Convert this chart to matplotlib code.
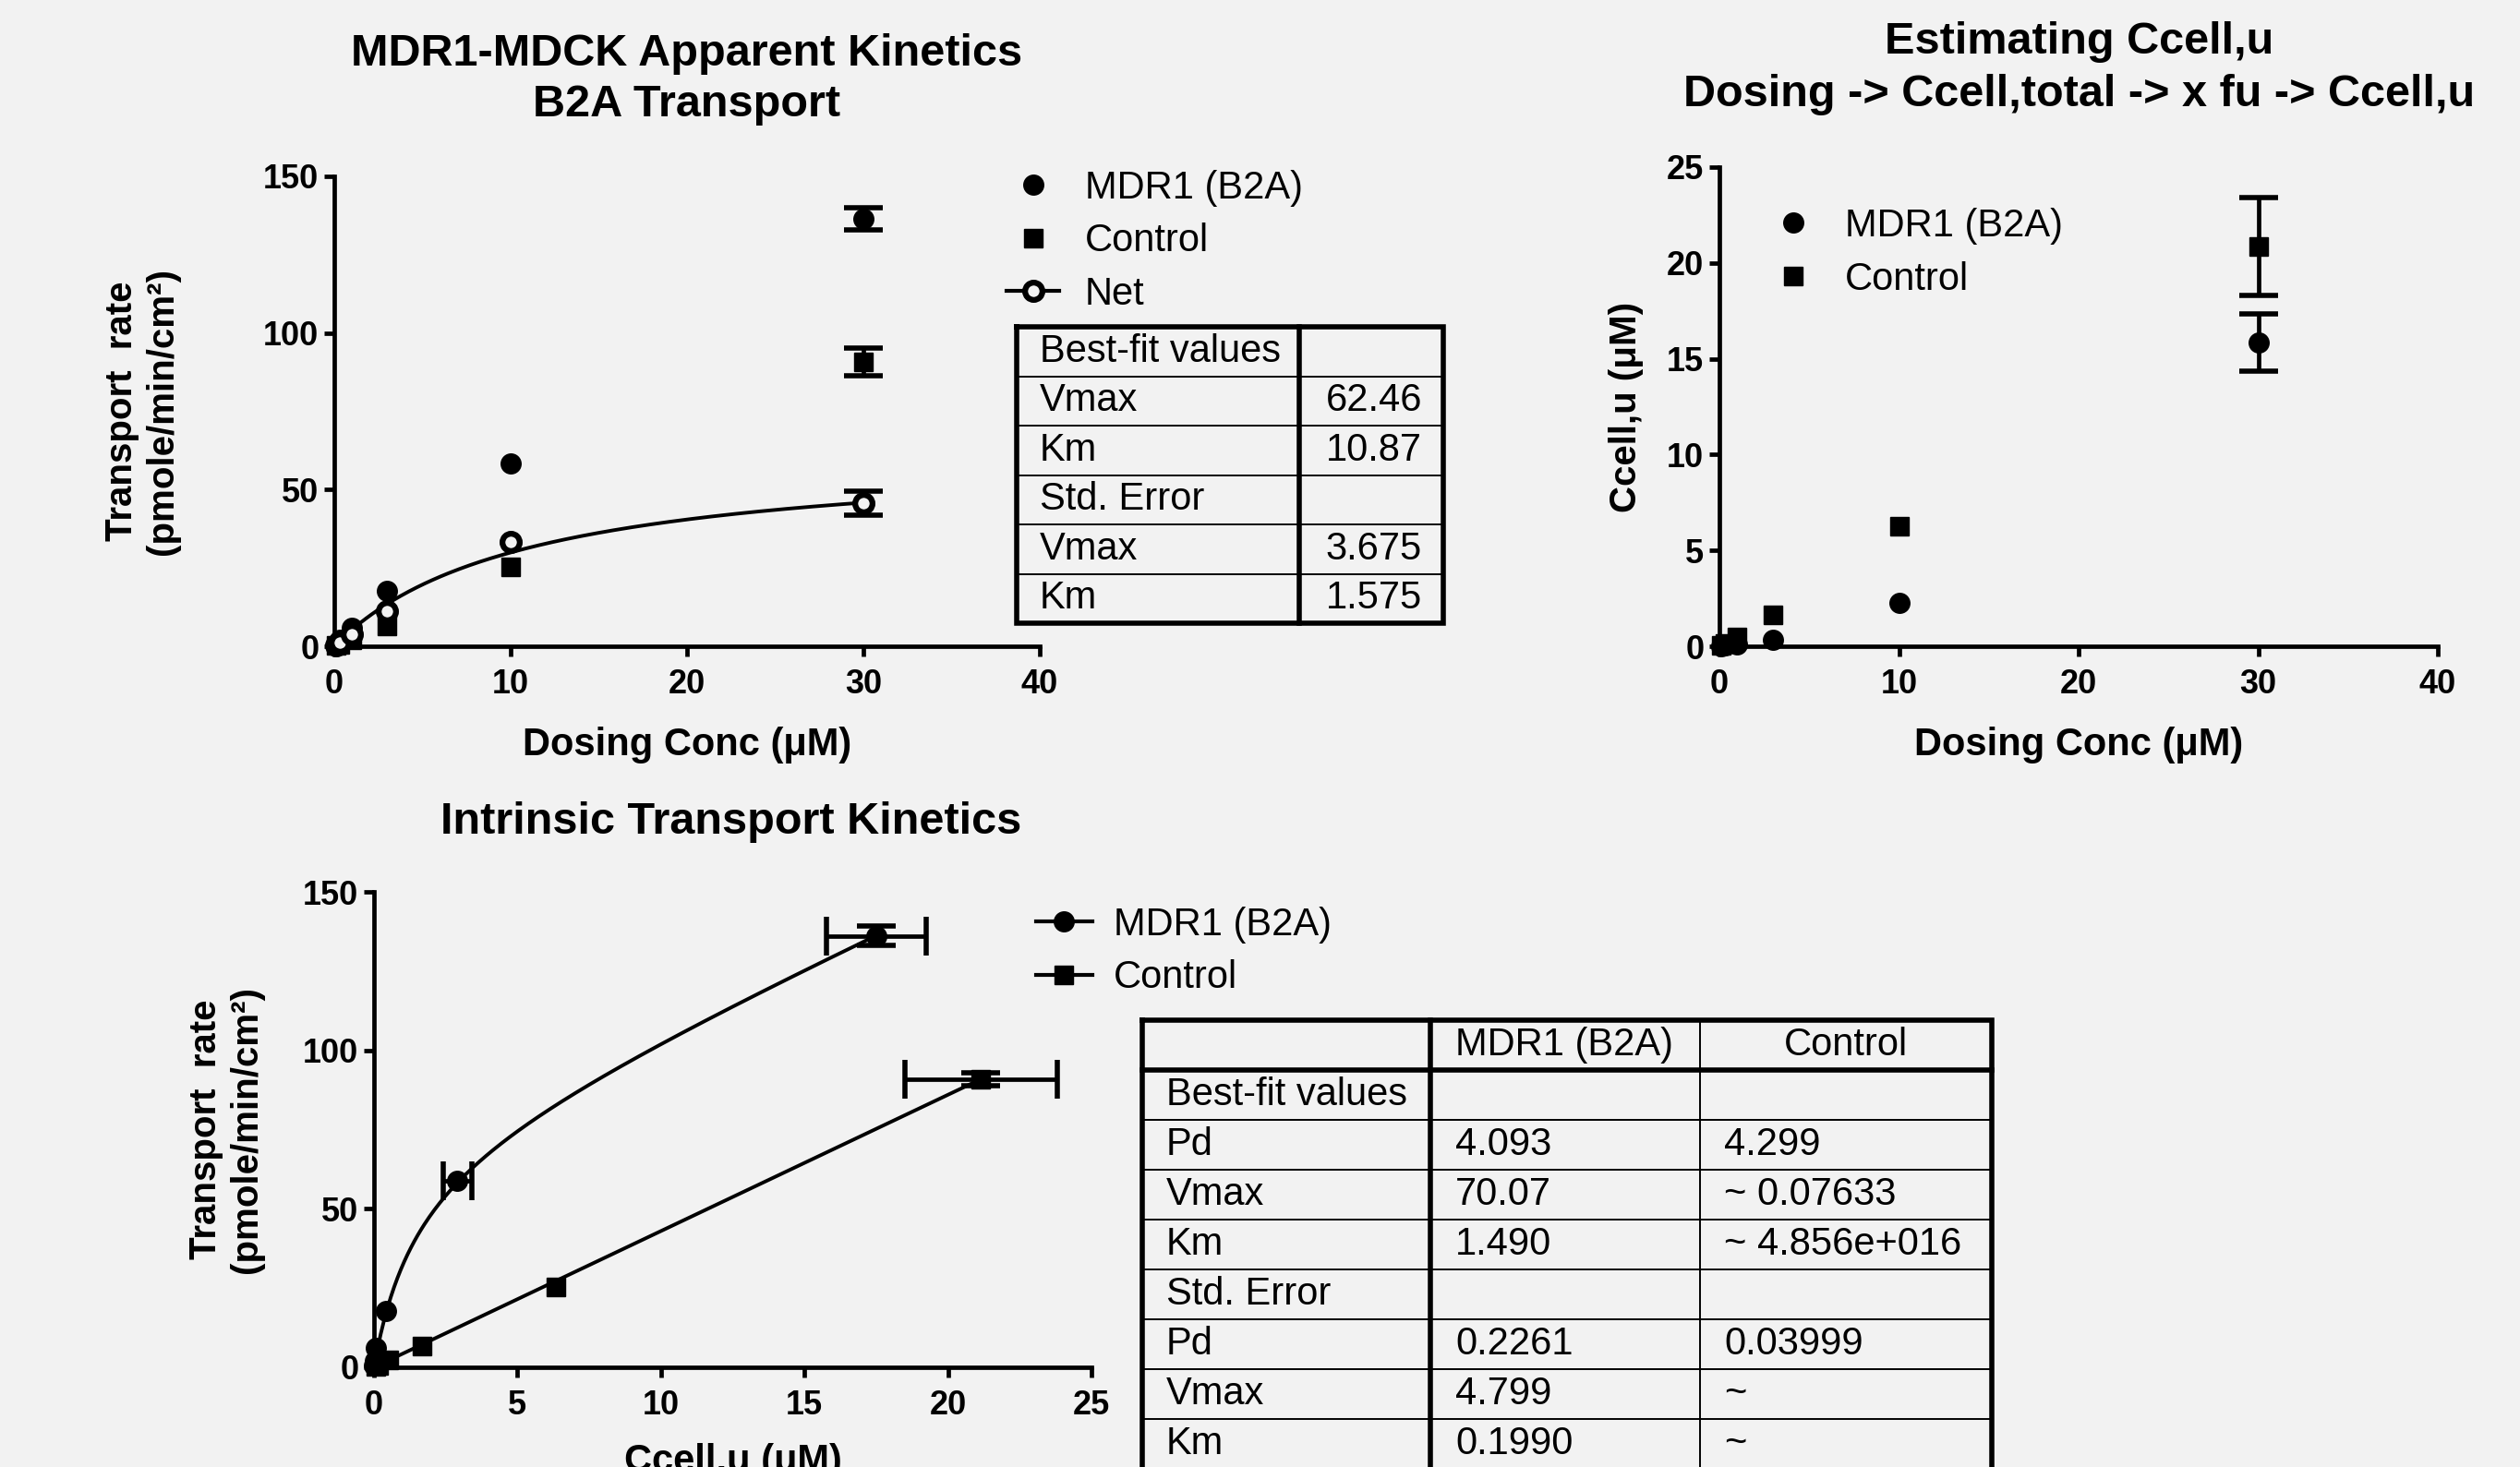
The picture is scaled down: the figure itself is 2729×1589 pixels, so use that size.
import numpy as np
import matplotlib
matplotlib.use('Agg')
import matplotlib.pyplot as plt
from matplotlib.lines import Line2D

plt.rcParams['font.family'] = ['Liberation Sans', 'DejaVu Sans']

BG = '#f2f2f2'

# ---------------- data ----------------
# Top-left: apparent kinetics vs dosing concentration
dose = [0.1, 0.3, 1, 3, 10, 30]
mdr1_rate = [0.6, 2.0, 6.0, 17.7, 58.4, 136.4]
mdr1_rate_err = [0, 0, 0, 0, 0, 3.5]
control_rate = [0.2, 0.7, 2.2, 6.5, 25.2, 90.8]
control_rate_err = [0, 0, 0, 0, 0, 4.5]
net_rate = [0.4, 1.3, 3.8, 11.2, 33.2, 45.6]
net_rate_err = [0, 0, 0, 0, 0, 3.8]
net_vmax = 62.46
net_km = 10.87

# Top-right: unbound cell concentration vs dosing concentration
mdr1_ccell = [0.01, 0.03, 0.08, 0.36, 2.25, 15.85]
mdr1_ccell_err = [0, 0, 0, 0, 0, 1.5]
control_ccell = [0.05, 0.15, 0.5, 1.65, 6.25, 20.85]
control_ccell_err = [0, 0, 0, 0, 0, 2.55]

# Bottom: intrinsic kinetics (rate vs Ccell,u)
mdr1_cu = [0.01, 0.03, 0.08, 0.42, 2.9, 17.5]
mdr1_cu_err = [0, 0, 0, 0, 0.5, 1.75]
mdr1_rate_b = [0.6, 2.0, 6.2, 17.9, 58.8, 136.1]
mdr1_rate_b_err = [0, 0, 0, 0, 0, 3.0]
control_cu = [0.05, 0.15, 0.52, 1.68, 6.35, 21.15]
control_cu_err = [0, 0, 0, 0, 0, 2.65]
control_rate_b = [0.2, 0.7, 2.3, 6.8, 25.4, 90.8]
control_rate_b_err = [0, 0, 0, 0, 0, 2.0]
mdr1_pd, mdr1_vmax, mdr1_km = 4.093, 70.07, 1.490
control_pd, control_vmax, control_km = 4.299, 0.07633, 4.856e16

# Tables
tl_rows = ["Best-fit values", "Vmax", "Km", "Std. Error", "Vmax", "Km"]
tl_vals = ["", "62.46", "10.87", "", "3.675", "1.575"]

b_header = ["", "MDR1 (B2A)", "Control"]
b_rows = ["Best-fit values", "Pd", "Vmax", "Km", "Std. Error", "Pd", "Vmax", "Km"]
b_mdr1 = ["", "4.093", "70.07", "1.490", "", "0.2261", "4.799", "0.1990"]
b_control = ["", "4.299", "~ 0.07633", "~ 4.856e+016", "", "0.03999", "~", "~"]

# ---------------- figure ----------------
W, H = 2729, 1589
fig = plt.figure(figsize=(W / 100, H / 100), dpi=100, facecolor=BG)

MS_C = 15.5
MS_S = 15
LW = 3.4
ELW = 3.4
CAPT = 4.0
CAPS = 15
FITLW = 2.8
OPEN_MS = 13.5
OPEN_MEW = 4.5


def style_axes(ax, xmax, ymax, xticks, yticks):
    ax.set_facecolor(BG)
    for s in ['top', 'right']:
        ax.spines[s].set_visible(False)
    for s in ['left', 'bottom']:
        ax.spines[s].set_linewidth(LW)
    ax.set_xlim(0, xmax)
    ax.set_ylim(0, ymax)
    ax.set_xticks(xticks)
    ax.set_yticks(yticks)
    ax.tick_params(direction='out', length=8, width=LW, labelsize=26)
    ax.tick_params(axis='x', pad=9)
    ax.tick_params(axis='y', pad=4)
    for lab in ax.get_xticklabels() + ax.get_yticklabels():
        lab.set_fontweight('bold')


def errbars(ax, x, y, xerr=None, yerr=None):
    x = np.asarray(x, float)
    y = np.asarray(y, float)
    if yerr is not None:
        e = np.asarray(yerr, float)
        m = e > 0
        if m.any():
            ax.errorbar(x[m], y[m], yerr=e[m], fmt='none', ecolor='k',
                        elinewidth=ELW, capsize=CAPS, capthick=CAPT, zorder=4)
    if xerr is not None:
        e = np.asarray(xerr, float)
        m = e > 0
        if m.any():
            ax.errorbar(x[m], y[m], xerr=e[m], fmt='none', ecolor='k',
                        elinewidth=ELW, capsize=CAPS, capthick=CAPT, zorder=4)


LEG = dict(loc='upper left', frameon=False, fontsize=30, handlelength=1.37,
           handletextpad=0.67, labelspacing=0.42, borderpad=0, borderaxespad=0)

# ---- top-left ----
ax1 = fig.add_axes([362 / W, 1 - 700 / H, (1126 - 362) / W, (700 - 191) / H])
style_axes(ax1, 40, 150, [0, 10, 20, 30, 40], [0, 50, 100, 150])
xf = np.linspace(0, max(dose), 200)
ax1.plot(xf, net_vmax * xf / (net_km + xf), color='k', lw=FITLW, zorder=3)
errbars(ax1, dose, mdr1_rate, yerr=mdr1_rate_err)
errbars(ax1, dose, control_rate, yerr=control_rate_err)
errbars(ax1, dose, net_rate, yerr=net_rate_err)
ax1.plot(dose, control_rate, 's', ms=MS_S, color='k', ls='none', clip_on=False, zorder=5)
ax1.plot(dose, mdr1_rate, 'o', ms=MS_C, color='k', ls='none', clip_on=False, zorder=5)
ax1.plot(dose, net_rate, 'o', ms=OPEN_MS, mfc=BG, mec='k', mew=OPEN_MEW, ls='none',
         clip_on=False, zorder=6)
ax1.set_xlabel('Dosing Conc (\u03bcM)', fontsize=30, fontweight='bold')
ax1.xaxis.set_label_coords(0.5, -0.17)
ax1.set_ylabel('Transport  rate\n(pmole/min/cm\u00b2)', fontsize=29, fontweight='bold')
ax1.yaxis.label.set_verticalalignment('center')
ax1.yaxis.set_label_coords(-0.272, 0.5)

h1 = [Line2D([], [], ls='none', marker='o', ms=MS_C, color='k'),
      Line2D([], [], ls='none', marker='s', ms=MS_S, color='k'),
      Line2D([], [], color='k', lw=3, marker='o', ms=OPEN_MS, mfc=BG, mec='k', mew=OPEN_MEW)]
fig.legend(h1, ['MDR1 (B2A)', 'Control', 'Net'],
           bbox_to_anchor=(1090 / W, 1 - 184 / H), **LEG)

# ---- top-right ----
ax2 = fig.add_axes([1862 / W, 1 - 700 / H, (2640 - 1862) / W, (700 - 181) / H])
style_axes(ax2, 40, 25, [0, 10, 20, 30, 40], [0, 5, 10, 15, 20, 25])
errbars(ax2, dose, mdr1_ccell, yerr=mdr1_ccell_err)
errbars(ax2, dose, control_ccell, yerr=control_ccell_err)
ax2.plot(dose, control_ccell, 's', ms=MS_S, color='k', ls='none', clip_on=False, zorder=5)
ax2.plot(dose, mdr1_ccell, 'o', ms=MS_C, color='k', ls='none', clip_on=False, zorder=5)
ax2.set_xlabel('Dosing Conc (\u03bcM)', fontsize=30, fontweight='bold')
ax2.xaxis.set_label_coords(0.5, -0.168)
ax2.set_ylabel('Ccell,u (\u03bcM)', fontsize=29, fontweight='bold')
ax2.yaxis.label.set_verticalalignment('center')
ax2.yaxis.set_label_coords(-0.130, 0.5)

h2 = [Line2D([], [], ls='none', marker='o', ms=MS_C, color='k'),
      Line2D([], [], ls='none', marker='s', ms=MS_S, color='k')]
fig.legend(h2, ['MDR1 (B2A)', 'Control'],
           bbox_to_anchor=(1913 / W, 1 - 225 / H), **LEG)

# ---- bottom ----
ax3 = fig.add_axes([405 / W, 1 - 1481 / H, (1182 - 405) / W, (1481 - 966) / H])
style_axes(ax3, 25, 150, [0, 5, 10, 15, 20, 25], [0, 50, 100, 150])
xm = np.linspace(0, max(mdr1_cu), 300)
ax3.plot(xm, mdr1_pd * xm + mdr1_vmax * xm / (mdr1_km + xm), color='k', lw=FITLW, zorder=3)
xc = np.linspace(0, max(control_cu), 300)
ax3.plot(xc, control_pd * xc + control_vmax * xc / (control_km + xc), color='k', lw=FITLW, zorder=3)
errbars(ax3, mdr1_cu, mdr1_rate_b, xerr=mdr1_cu_err, yerr=mdr1_rate_b_err)
errbars(ax3, control_cu, control_rate_b, xerr=control_cu_err, yerr=control_rate_b_err)
ax3.plot(control_cu, control_rate_b, 's', ms=MS_S, color='k', ls='none', clip_on=False, zorder=5)
ax3.plot(mdr1_cu, mdr1_rate_b, 'o', ms=MS_C, color='k', ls='none', clip_on=False, zorder=5)
ax3.set_xlabel('Ccell,u (\u03bcM)', fontsize=30, fontweight='bold')
ax3.xaxis.set_label_coords(0.5, -0.16)
ax3.set_ylabel('Transport  rate\n(pmole/min/cm\u00b2)', fontsize=29, fontweight='bold')
ax3.yaxis.label.set_verticalalignment('center')
ax3.yaxis.set_label_coords(-0.206, 0.5)

h3 = [Line2D([], [], color='k', lw=3, marker='o', ms=MS_C),
      Line2D([], [], color='k', lw=3, marker='s', ms=MS_S)]
fig.legend(h3, ['MDR1 (B2A)', 'Control'],
           bbox_to_anchor=(1122 / W, 1 - 982 / H),
           **{**LEG, 'handlelength': 1.46, 'handletextpad': 0.55})

# ---- titles ----
fig.text(744 / W, 1 - 86 / H, 'MDR1-MDCK Apparent Kinetics\nB2A Transport',
         ha='center', va='center', fontsize=35, fontweight='bold', linespacing=1.31)
fig.text(2252 / W, 1 - 74 / H, 'Estimating Ccell,u\nDosing -> Ccell,total -> x fu -> Ccell,u',
         ha='center', va='center', fontsize=35, fontweight='bold', linespacing=1.33)
fig.text(792 / W, 1 - 891 / H, 'Intrinsic Transport Kinetics',
         ha='center', va='center', fontsize=35, fontweight='bold')

# ---- tables (overlay in pixel coordinates) ----
ov = fig.add_axes([0, 0, 1, 1])
ov.set_xlim(0, W)
ov.set_ylim(H, 0)
ov.axis('off')
ov.patch.set_alpha(0)

THICK = 4.0
THIN = 1.4
TFS = 30

# top-left table
L, R, D = 1101, 1563, 1407
T0, RH = 354, 53.5
nrow = len(tl_rows)
Bt = T0 + RH * nrow
for i in range(1, nrow):
    ov.plot([L, R], [T0 + i * RH] * 2, color='k', lw=THIN, solid_capstyle='butt')
ov.plot([D, D], [T0, Bt], color='k', lw=THICK)
ov.plot([L, R, R, L, L], [T0, T0, Bt, Bt, T0], color='k', lw=THICK, solid_joinstyle='miter')
for i, (lab, val) in enumerate(zip(tl_rows, tl_vals)):
    yc = T0 + (i + 0.5) * RH
    ov.text(1126, yc, lab, fontsize=TFS, ha='left', va='center')
    if val:
        ov.text(1540, yc, val, fontsize=TFS, ha='right', va='center')

# bottom table
bL, bC1, bC2, bR = 1237, 1549, 1841, 2157
bT, bHB, bRH = 1105, 1159, 54
nb = len(b_rows)
bB = bHB + bRH * nb
for i in range(1, nb):
    ov.plot([bL, bR], [bHB + i * bRH] * 2, color='k', lw=THIN, solid_capstyle='butt')
ov.plot([bL, bR], [bHB, bHB], color='k', lw=THICK)
ov.plot([bC1, bC1], [bT, bB], color='k', lw=THICK)
ov.plot([bC2, bC2], [bT, bB], color='k', lw=THIN)
ov.plot([bL, bR, bR, bL, bL], [bT, bT, bB, bB, bT], color='k', lw=THICK, solid_joinstyle='miter')
ov.text(1576, (bT + bHB) / 2, b_header[1], fontsize=TFS, ha='left', va='center')
ov.text((bC2 + bR) / 2, (bT + bHB) / 2, b_header[2], fontsize=TFS, ha='center', va='center')
for i in range(nb):
    yc = bHB + (i + 0.5) * bRH
    ov.text(1263, yc, b_rows[i], fontsize=TFS, ha='left', va='center')
    if b_mdr1[i]:
        ov.text(1576, yc, b_mdr1[i], fontsize=TFS, ha='left', va='center')
    if b_control[i]:
        ov.text(1867, yc, b_control[i], fontsize=TFS, ha='left', va='center')

fig.savefig('out.png', dpi=100, facecolor=BG)
